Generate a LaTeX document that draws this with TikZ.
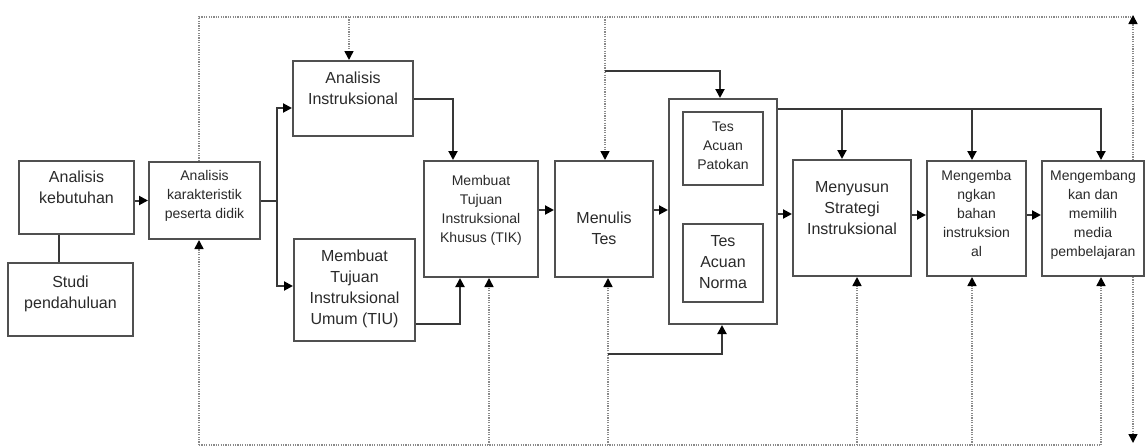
\documentclass[tikz,border=0pt]{standalone}
\usepackage{fontspec}
\setmainfont{Liberation Sans}
\usetikzlibrary{arrows.meta,calc}
\definecolor{boxc}{HTML}{505050}
\definecolor{linec}{HTML}{383838}
\definecolor{dotc}{HTML}{8A8A8A}
\definecolor{txtc}{HTML}{2A2A2A}
\begin{document}
\begin{tikzpicture}[x=1pt,y=-1pt,
  box/.style={draw=boxc,line width=2pt,inner sep=0pt},
  big/.style={font=\fontsize{16}{21}\selectfont,text=txtc,align=center,anchor=north,inner sep=0pt},
  small/.style={font=\fontsize{14}{19}\selectfont,text=txtc,align=center,anchor=north,inner sep=0pt},
  con/.style={draw=linec,line width=2pt},
  arr/.style={con,-{Triangle[length=9pt,width=9pt,color=black]}},
  dot/.style={draw=dotc,line width=1.6pt,dash pattern=on 1.2pt off 1.2pt},
  darr/.style={dot,-{Triangle[length=9pt,width=9pt,color=black]}}
]
\useasboundingbox[fill=white] (0,0) rectangle (1146,447);

% boxes
\node[box,minimum width=115pt,minimum height=73pt] (keb) at (76.5,197.5) {};
\node[box,minimum width=125pt,minimum height=73pt] (studi) at (70.5,299.5) {};
\node[box,minimum width=111pt,minimum height=77pt] (kar) at (204.5,200.5) {};
\node[box,minimum width=120pt,minimum height=75pt] (ai) at (353,98.5) {};
\node[box,minimum width=121pt,minimum height=102pt] (tiu) at (354.5,290) {};
\node[box,minimum width=114pt,minimum height=116pt] (tik) at (481,219) {};
\node[box,minimum width=98pt,minimum height=116pt] (mt) at (604,219) {};
\node[box,minimum width=108pt,minimum height=225pt] (outer) at (723,211.5) {};
\node[box,minimum width=80pt,minimum height=73pt] (pat) at (723,148.5) {};
\node[box,minimum width=80pt,minimum height=78pt] (nor) at (723,263) {};
\node[box,minimum width=118pt,minimum height=116pt] (str) at (852,218) {};
\node[box,minimum width=99pt,minimum height=115pt] (bah) at (976.5,218.5) {};
\node[box,minimum width=102pt,minimum height=115pt] (med) at (1093,218.5) {};

% texts
\node[big] (kebT) at (76.5,167.3) {\strut Analisis\\kebutuhan};
\node[big] (studiT) at (70.5,272.3) {\strut Studi\\pendahuluan};
\node[small] (karT) at (204.5,167.4) {\strut Analisis\\karakteristik\\peserta didik};
\node[big] (aiT) at (353,68.3) {\strut Analisis\\Instruksional};
\node[big] (tiuT) at (354.5,247) {\strut Membuat\\Tujuan\\Instruksional\\Umum (TIU)};
\node[small] (tikT) at (481,171.7) {\strut Membuat\\Tujuan\\Instruksional\\Khusus (TIK)};
\node[big] (mtT) at (604,208.3) {\strut Menulis\\Tes};
\node[small] (patT) at (723,118.4) {\strut Tes\\Acuan\\Patokan};
\node[big] (norT) at (723,231.3) {\strut Tes\\Acuan\\Norma};
\node[big] (strT) at (852,177.6) {\strut Menyusun\\Strategi\\Instruksional};
\node[small] (bahT) at (976.5,166.7) {\strut Mengemba\\ngkan\\bahan\\instruksion\\al};
\node[small] (medT) at (1093,166.7) {\strut Mengembang\\kan dan\\memilih\\media\\pembelajaran};

% solid connectors
\coordinate (ks) at ($(keb.south)+(-17.5,0)$);
\draw[con] (ks) -- (ks |- studi.north);
\draw[arr] (keb.east |- kar.west) -- (kar.west);
\coordinate (split) at (277,201);
\draw[con] (kar.east |- split) -- (split);
\draw[arr] (split) |- ($(ai.west)+(0,9.5)$);
\draw[arr] (split) |- ($(tiu.west)+(0,-4)$);
\draw[arr] (ai.east) -| ($(tik.north)+(-28,0)$);
\draw[arr] ($(tiu.east)+(0,34)$) -| ($(tik.south)+(-21,0)$);
\draw[arr] ($(tik.east)+(0,-9)$) -- ($(mt.west)+(0,-9)$);
\draw[arr] ($(mt.east)+(0,-9)$) -- ($(outer.west)+(0,-1.5)$);
\draw[arr] ($(outer.east)+(0,2.5)$) -- ($(str.west)+(0,-4)$);
\draw[arr] ($(str.east)+(0,-3)$) -- ($(bah.west)+(0,-3.5)$);
\draw[arr] ($(bah.east)+(0,-3.5)$) -- ($(med.west)+(0,-3.5)$);

\coordinate (bus) at ($(outer.north east)+(0,11)$);
\coordinate (medtop) at ($(med.north)+(8,0)$);
\draw[arr] (bus) -| (medtop);
\coordinate (strtop) at ($(str.north)+(-10,0)$);
\draw[arr] (strtop |- bus) -- (strtop);
\coordinate (bahtop) at ($(bah.north)+(-4.5,0)$);
\draw[arr] (bahtop |- bus) -- (bahtop);

% dotted frame
\coordinate (tl) at (199,17);
\coordinate (tr) at (1133,17);
\coordinate (bl) at (199,445);
\coordinate (br) at (1101,445);
\draw[dot] (kar.north -| tl) -- (tl) -- (tr);
\draw[darr] (tr |- med.north) -- ($(tr)+(0,-2)$);
\draw[darr] (tr |- med.south) -- ($(tr |- bl)+(0,-2)$);
\draw[dot] (bl) -- (br);
\draw[darr] (bl) -- (bl |- kar.south);

\coordinate (aitop) at ($(ai.north)+(-4,0)$);
\draw[darr] (aitop |- tl) -- (aitop);
\coordinate (mttop) at ($(mt.north)+(1,0)$);
\draw[darr] (mttop |- tl) -- (mttop);
\coordinate (tbr) at ($(mttop)+(0,-89)$);
\draw[arr] (tbr) -| ($(outer.north)+(-3,0)$);

\coordinate (tikbot) at ($(tik.south)+(8,0)$);
\draw[darr] (tikbot |- bl) -- (tikbot);
\coordinate (mtbot) at ($(mt.south)+(4,0)$);
\draw[darr] (mtbot |- bl) -- (mtbot);
\coordinate (bbr) at ($(mtbot)+(0,76)$);
\draw[arr] (bbr) -| ($(outer.south)+(-1,0)$);
\coordinate (strbot) at ($(str.south)+(5,0)$);
\draw[darr] (strbot |- bl) -- (strbot);
\coordinate (bahbot) at ($(bah.south)+(-4.5,0)$);
\draw[darr] (bahbot |- bl) -- (bahbot);
\coordinate (medbot) at ($(med.south)+(8,0)$);
\draw[darr] (br) -- (medbot);
\end{tikzpicture}
\end{document}
